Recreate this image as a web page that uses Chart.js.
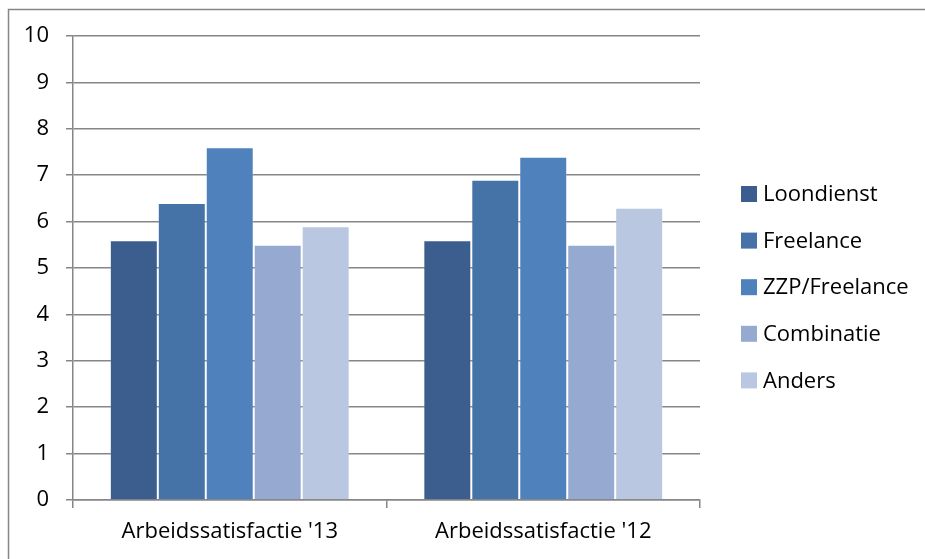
<!DOCTYPE html>
<html>
<head>
<meta charset="utf-8">
<script src="https://cdn.jsdelivr.net/npm/chart.js@4/dist/chart.umd.min.js"></script>
<style>
  html, body { margin: 0; padding: 0; background: #fff; }
  #wrap { width: 925px; height: 559px; position: relative; }
</style>
</head>
<body>
<div id="wrap"><canvas id="c" width="925" height="559"></canvas></div>
<script>
// Categories on the x axis
const categories = ["Arbeidssatisfactie '13", "Arbeidssatisfactie '12"];

// Series: average work satisfaction score per employment type
const loondienst   = [5.6, 5.6];
const freelance    = [6.4, 6.9];
const zzpFreelance = [7.6, 7.4];
const combinatie   = [5.5, 5.5];
const anders       = [5.9, 6.3];

const seriesNames  = ['Loondienst', 'Freelance', 'ZZP/Freelance', 'Combinatie', 'Anders'];
const seriesColors = ['#3b5e8f', '#4572a7', '#4f81bd', '#95a9d1', '#b9c7e0'];
const seriesValues = [loondienst, freelance, zzpFreelance, combinatie, anders];

const FONT = '"Open Sans", "DejaVu Sans", sans-serif';
const AXIS_GREY = '#868686';

// Outer frame around the whole chart
const framePlugin = {
  id: 'frame',
  beforeDraw(chart) {
    const ctx = chart.ctx;
    ctx.save();
    ctx.strokeStyle = AXIS_GREY;
    ctx.lineWidth = 1.5;
    ctx.strokeRect(8.5, 9.5, 940, 600);
    ctx.restore();
  }
};

// Vertical legend on the right side
const sideLegend = {
  id: 'sideLegend',
  afterDraw(chart) {
    const ctx = chart.ctx;
    ctx.save();
    ctx.font = '22px ' + FONT;
    ctx.textBaseline = 'middle';
    ctx.textAlign = 'left';
    chart.data.datasets.forEach((ds, i) => {
      const cy = 194 + i * 46.6;
      ctx.fillStyle = ds.backgroundColor;
      ctx.fillRect(741, cy - 8, 16, 16);
      ctx.fillStyle = '#000';
      ctx.fillText(ds.label, 763, cy + 1);
    });
    ctx.restore();
  }
};

new Chart(document.getElementById('c'), {
  type: 'bar',
  data: {
    labels: categories,
    datasets: seriesNames.map((name, i) => ({
      label: name,
      data: seriesValues[i],
      backgroundColor: seriesColors[i],
      borderColor: 'rgba(255,255,255,0.22)',
      borderWidth: 1,
      categoryPercentage: 0.765,
      barPercentage: 1
    }))
  },
  options: {
    responsive: false,
    animation: false,
    devicePixelRatio: 1,
    layout: { padding: { top: 36, right: 225, left: 0, bottom: 0 } },
    plugins: {
      legend: { display: false },
      tooltip: { enabled: false }
    },
    scales: {
      x: {
        afterFit(scale) { scale.height = 59; },
        grid: {
          display: true,
          drawOnChartArea: false,
          drawTicks: true,
          tickLength: 8,
          offset: true,
          color: AXIS_GREY,
          lineWidth: 1.5
        },
        border: { display: true, color: AXIS_GREY, width: 1.5 },
        ticks: {
          color: '#000',
          font: { family: FONT, size: 22 },
          padding: 11,
          maxRotation: 0
        }
      },
      y: {
        min: 0,
        max: 10,
        afterFit(scale) { scale.width = 73; },
        grid: {
          color: AXIS_GREY,
          lineWidth: 1.5,
          drawTicks: true,
          tickLength: 7
        },
        border: { display: true, color: AXIS_GREY, width: 1.5 },
        ticks: {
          stepSize: 1,
          color: '#000',
          font: { family: FONT, size: 22 },
          padding: 17
        }
      }
    }
  },
  plugins: [framePlugin, sideLegend]
});
</script>
</body>
</html>
